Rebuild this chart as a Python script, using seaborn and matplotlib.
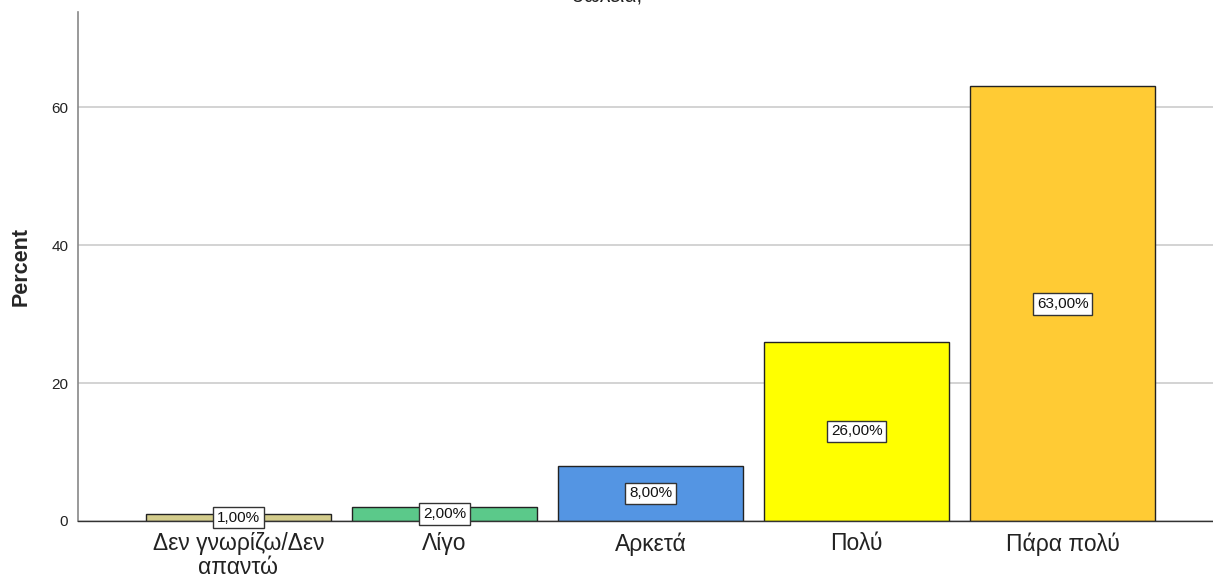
import matplotlib
matplotlib.use("Agg")
import matplotlib.pyplot as plt
import seaborn as sns
import pandas as pd

categories = ["Δεν γνωρίζω/Δεν\nαπαντώ", "Λίγο", "Αρκετά", "Πολύ", "Πάρα πολύ"]
percent = [1.0, 2.0, 8.0, 26.0, 63.0]
colors = ["#D3CC8C", "#5BC98A", "#5495E3", "#FFFF00", "#FFCB34"]
yticks = [0, 20, 40, 60]

sns.set_style("white")
plt.rcParams["font.family"] = ["Liberation Sans", "DejaVu Sans"]

df = pd.DataFrame({"cat": categories, "pct": percent})

fig = plt.figure(figsize=(12.13, 5.78), dpi=100)
ax = fig.add_axes([78/1213, 57/578, (1213-78)/1213, 509/578])

sns.barplot(data=df, x="cat", y="pct", hue="cat", palette=colors, legend=False,
            saturation=1, width=0.9, edgecolor="#222222", linewidth=1.0, ax=ax, zorder=3)

ax.set_xlim(-0.779, 4.73)
ax.set_ylim(0, 73.8)
ax.set_yticks(yticks)
ax.set_yticklabels([str(t) for t in yticks], fontsize=11, color="#222222")
ax.yaxis.grid(True, color="#CCCCCC", linewidth=1.2, zorder=0)
ax.set_axisbelow(True)
ax.tick_params(axis="x", labelsize=16.5, colors="#222222", length=0, pad=8)
ax.tick_params(axis="y", length=4, color="#888888", pad=3)
for lbl in ax.get_xticklabels():
    lbl.set_linespacing(1.06)
ax.set_xlabel("")
ax.set_ylabel("Percent", fontsize=15.5, fontweight="bold", labelpad=14)

for s in ["top", "right"]:
    ax.spines[s].set_visible(False)
ax.spines["left"].set_color("#888888")
ax.spines["left"].set_linewidth(1.2)
ax.spines["bottom"].set_color("#333333")
ax.spines["bottom"].set_linewidth(1.0)
ax.spines["bottom"].set_zorder(5)

for i, v in enumerate(percent):
    ax.text(i, v / 2, f"{v:.2f}".replace(".", ",") + "%", ha="center", va="center",
            fontsize=11, color="#111111", zorder=6,
            bbox=dict(boxstyle="square,pad=0.25", facecolor="white", edgecolor="#333333", linewidth=1))

fig.text(607/1213, 1 - 2.5/578, "σωλεία;", ha="center", va="baseline", fontsize=15, color="#222222")

fig.savefig("out.png", dpi=100)
